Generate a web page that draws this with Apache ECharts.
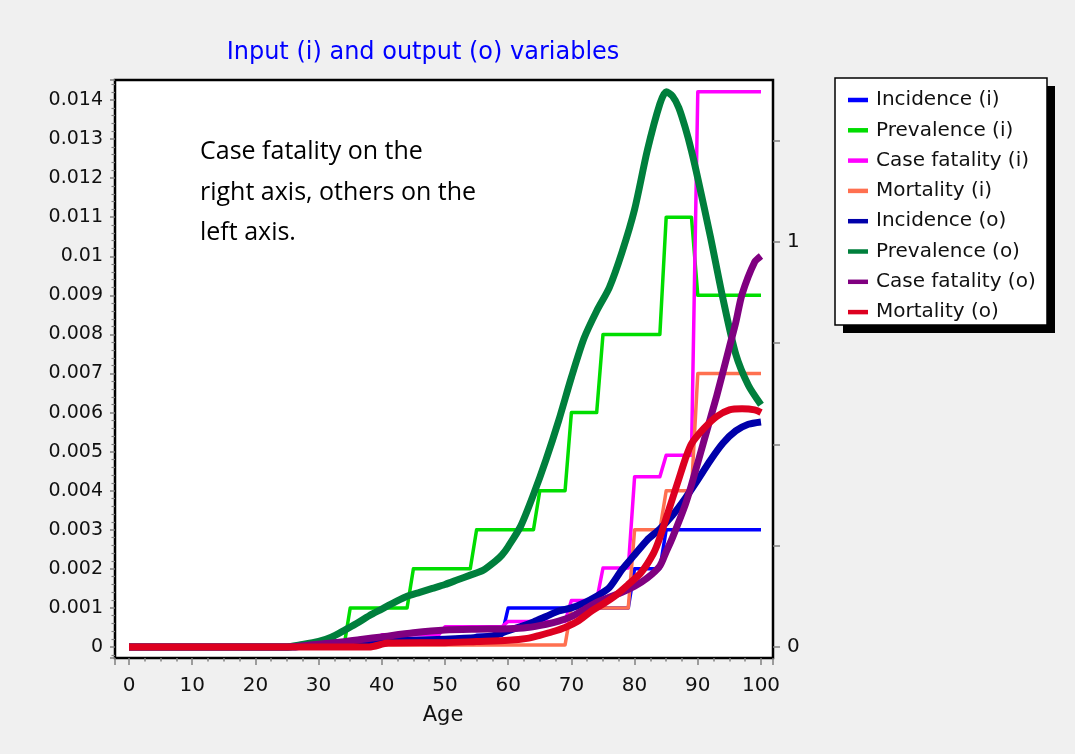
<!DOCTYPE html>
<html>
<head>
<meta charset="utf-8">
<title>Input (i) and output (o) variables</title>
<script src="https://cdn.jsdelivr.net/npm/echarts@6/dist/echarts.min.js"></script>
<style>
html, body { margin: 0; padding: 0; background: #f0f0f0; }
#main { width: 1075px; height: 754px; }
</style>
</head>
<body>
<div id="main"></div>
<script>
// input (i) series, given at the ages where the steps start/end
var incidenceInAges = [0, 29, 30, 39, 40, 54, 55, 59, 60, 79, 80, 84, 85, 100];
var incidenceInVals = [0, 0, 0.0001, 0.0001, 0.0002, 0.0002, 0.0003, 0.0003, 0.001, 0.001, 0.002, 0.002, 0.003, 0.003];

var prevalenceInAges = [0, 34, 35, 44, 45, 54, 55, 64, 65, 69, 70, 74, 75, 84, 85, 89, 90, 100];
var prevalenceInVals = [0, 0, 0.001, 0.001, 0.002, 0.002, 0.003, 0.003, 0.004, 0.004, 0.006, 0.006, 0.008, 0.008, 0.011, 0.011, 0.009, 0.009];

// case fatality is on the right axis
var fatalityInAges = [0, 29, 30, 39, 40, 49, 50, 59, 60, 69, 70, 74, 75, 79, 80, 84, 85, 89, 90, 100];
var fatalityInVals = [0, 0, 0.01, 0.01, 0.03, 0.03, 0.05, 0.05, 0.063, 0.063, 0.115, 0.115, 0.195, 0.195, 0.42, 0.42, 0.473, 0.473, 1.37, 1.37];

var mortalityInAges = [0, 39, 40, 69, 70, 79, 80, 84, 85, 89, 90, 100];
var mortalityInVals = [0, 0, 0.00005, 0.00005, 0.001, 0.001, 0.003, 0.003, 0.004, 0.004, 0.007, 0.007];

// output (o) series
var incidenceOutAges = [0, 26, 30, 40, 50, 55, 58, 60, 62, 64, 66, 68, 70, 72, 74, 76, 78, 80, 82, 84, 86, 88, 90, 92, 94, 96, 98, 100];
var incidenceOutVals = [0, 0, 0.00008, 0.00015, 0.0002, 0.00024, 0.0003, 0.00042, 0.00052, 0.00064, 0.00078, 0.00092, 0.001, 0.00113, 0.0013, 0.00152, 0.00198, 0.00236, 0.00274, 0.00302, 0.00337, 0.0038, 0.00428, 0.00478, 0.00522, 0.00553, 0.0057, 0.00576];

var prevalenceOutAges = [0, 25, 27, 30, 32, 34, 36, 38, 40, 42, 44, 46, 48, 50, 52, 54, 56, 58, 59, 60, 62, 64, 66, 68, 70, 72, 74, 76, 78, 80, 82, 84, 85, 86, 87, 88, 89, 90, 92, 94, 96, 98, 100];
var prevalenceOutVals = [0, 0, 0.00005, 0.00014, 0.00025, 0.00042, 0.0006, 0.0008, 0.00097, 0.00114, 0.0013, 0.0014, 0.0015, 0.0016, 0.00172, 0.00184, 0.00196, 0.0022, 0.00235, 0.00257, 0.0031, 0.0039, 0.0048, 0.0058, 0.0069, 0.0079, 0.0086, 0.0092, 0.0101, 0.0112, 0.0127, 0.0139, 0.01421, 0.0141, 0.0138, 0.0133, 0.0127, 0.012, 0.0105, 0.0089, 0.0075, 0.0067, 0.0062];

var fatalityOutAges = [0, 25, 28, 30, 34, 37, 40, 45, 50, 55, 60, 63, 66, 68, 70, 72, 74, 76, 78, 80, 82, 84, 85, 86, 88, 89, 91, 93, 95, 96, 97, 99, 100];
var fatalityOutVals = [0, 0, 0.004, 0.007, 0.013, 0.019, 0.025, 0.035, 0.042, 0.044, 0.045, 0.048, 0.056, 0.064, 0.075, 0.092, 0.11, 0.123, 0.135, 0.15, 0.17, 0.2, 0.235, 0.27, 0.35, 0.4, 0.51, 0.62, 0.74, 0.8, 0.87, 0.95, 0.965];

var mortalityOutAges = [0, 38, 41, 50, 55, 60, 63, 65, 67, 69, 71, 73, 75, 77, 79, 81, 83, 84, 85, 86, 87, 88, 89, 91, 93, 95, 97, 99, 100];
var mortalityOutVals = [0, 0, 0.0001, 0.00011, 0.00014, 0.00017, 0.00022, 0.0003, 0.00039, 0.0005, 0.00066, 0.0009, 0.0011, 0.00132, 0.0016, 0.0019, 0.0024, 0.0028, 0.0033, 0.0038, 0.0043, 0.0048, 0.0052, 0.0056, 0.0059, 0.00607, 0.0061, 0.00607, 0.006];

// right axis: ticks every 0.25, only 0 and 1 labelled
var rightTicks = [0, 0.25, 0.5, 0.75, 1, 1.25];
var rightLabels = [0, 1];

var myChart = echarts.init(document.getElementById('main'));

function pairs(ages, vals) {
    return ages.map(function (a, i) { return [a, vals[i]]; });
}

function mkLine(name, ages, vals, color, width, axis, smooth) {
    return {
        name: name,
        type: 'line',
        yAxisIndex: axis,
        data: pairs(ages, vals),
        showSymbol: false,
        symbol: 'none',
        clip: false,
        smooth: smooth ? 0.25 : false,
        color: color,
        lineStyle: { color: color, width: width, cap: 'butt', join: 'round' },
        emphasis: { disabled: true }
    };
}

var axisFont = 'DejaVu Sans';
var tickStyle = { color: '#808080', width: 1.5 };

// the frame is a bit wider than the data range (ages 0-100, values from 0)
var option = {
    backgroundColor: '#f0f0f0',
    animation: false,
    grid: {
        left: 115, right: 302, top: 80, bottom: 96,
        show: true, backgroundColor: '#ffffff', borderColor: '#000000', borderWidth: 2.5
    },
    graphic: [
        // legend box + shadow
        { type: 'rect', z: 0, shape: { x: 843, y: 86, width: 212, height: 247 },
          style: { fill: '#000000' } },
        { type: 'rect', z: 0, shape: { x: 835, y: 78, width: 212, height: 247 },
          style: { fill: '#ffffff', stroke: '#000000', lineWidth: 1.5 } },
        { type: 'text', z: 5, x: 423, y: 53,
          style: { text: 'Input (i) and output (o) variables', fill: '#0000ff',
                   font: '24px "DejaVu Sans"', textAlign: 'center', textVerticalAlign: 'middle' } },
        { type: 'text', z: 5, x: 200, y: 152,
          style: { text: 'Case fatality on the', fill: '#000000', font: '25px "Open Sans"', textVerticalAlign: 'middle' } },
        { type: 'text', z: 5, x: 200, y: 193,
          style: { text: 'right axis, others on the', fill: '#000000', font: '25px "Open Sans"', textVerticalAlign: 'middle' } },
        { type: 'text', z: 5, x: 200, y: 233,
          style: { text: 'left axis.', fill: '#000000', font: '25px "Open Sans"', textVerticalAlign: 'middle' } },
        { type: 'text', z: 5, x: 443, y: 716,
          style: { text: 'Age', fill: '#111111', font: '21px "DejaVu Sans"',
                   textAlign: 'center', textVerticalAlign: 'middle' } }
    ],
    legend: {
        orient: 'vertical',
        left: 848,
        top: 90,
        padding: 0,
        itemGap: 10.3,
        itemWidth: 20,
        itemHeight: 4.5,
        icon: 'rect',
        selectedMode: false,
        textStyle: { fontFamily: axisFont, fontSize: 20, color: '#111111', lineHeight: 20, padding: [0, 0, 0, 3] }
    },
    xAxis: {
        type: 'value',
        position: 'bottom',
        min: -2.215,
        max: 101.9,
        splitNumber: 10,
        axisLine: { show: false, onZero: false },
        splitLine: { show: false },
        axisTick: { length: 7, lineStyle: tickStyle },
        minorTick: { show: true, splitNumber: 4, length: 3.5, lineStyle: tickStyle },
        axisLabel: { margin: 18, color: '#111111', fontFamily: axisFont, fontSize: 20,
                     showMinLabel: false, showMaxLabel: false }
    },
    yAxis: [{
        type: 'value',
        position: 'left',
        min: -0.000282,
        max: 0.014512,
        splitNumber: 15,
        axisLine: { show: false, onZero: false },
        splitLine: { show: false },
        axisTick: { length: 5, lineStyle: tickStyle },
        minorTick: { show: true, splitNumber: 5, length: 3.5, lineStyle: { color: '#808080', width: 1.2 } },
        axisLabel: {
            margin: 12, color: '#111111', fontFamily: axisFont, fontSize: 19,
            showMinLabel: false, showMaxLabel: false,
            formatter: function (v) { return String(+v.toFixed(3)); }
        }
    }, {
        type: 'value',
        position: 'right',
        min: -0.02714,
        max: 1.399,
        axisLine: { show: false, onZero: false },
        splitLine: { show: false },
        axisTick: { length: 7, lineStyle: tickStyle, customValues: rightTicks },
        axisLabel: { margin: 14, color: '#111111', fontFamily: axisFont, fontSize: 20, customValues: rightLabels }
    }],
    series: [
        mkLine('Incidence (i)', incidenceInAges, incidenceInVals, '#0000ff', 3.5, 0, false),
        mkLine('Prevalence (i)', prevalenceInAges, prevalenceInVals, '#00dd00', 3.5, 0, false),
        mkLine('Case fatality (i)', fatalityInAges, fatalityInVals, '#ff00ff', 3.5, 1, false),
        mkLine('Mortality (i)', mortalityInAges, mortalityInVals, '#ff7050', 3.5, 0, false),
        mkLine('Incidence (o)', incidenceOutAges, incidenceOutVals, '#0000aa', 7, 0, true),
        mkLine('Prevalence (o)', prevalenceOutAges, prevalenceOutVals, '#007f3c', 7, 0, true),
        mkLine('Case fatality (o)', fatalityOutAges, fatalityOutVals, '#800080', 7, 1, true),
        mkLine('Mortality (o)', mortalityOutAges, mortalityOutVals, '#dd0020', 7, 0, true)
    ]
};

myChart.setOption(option);
</script>
</body>
</html>
